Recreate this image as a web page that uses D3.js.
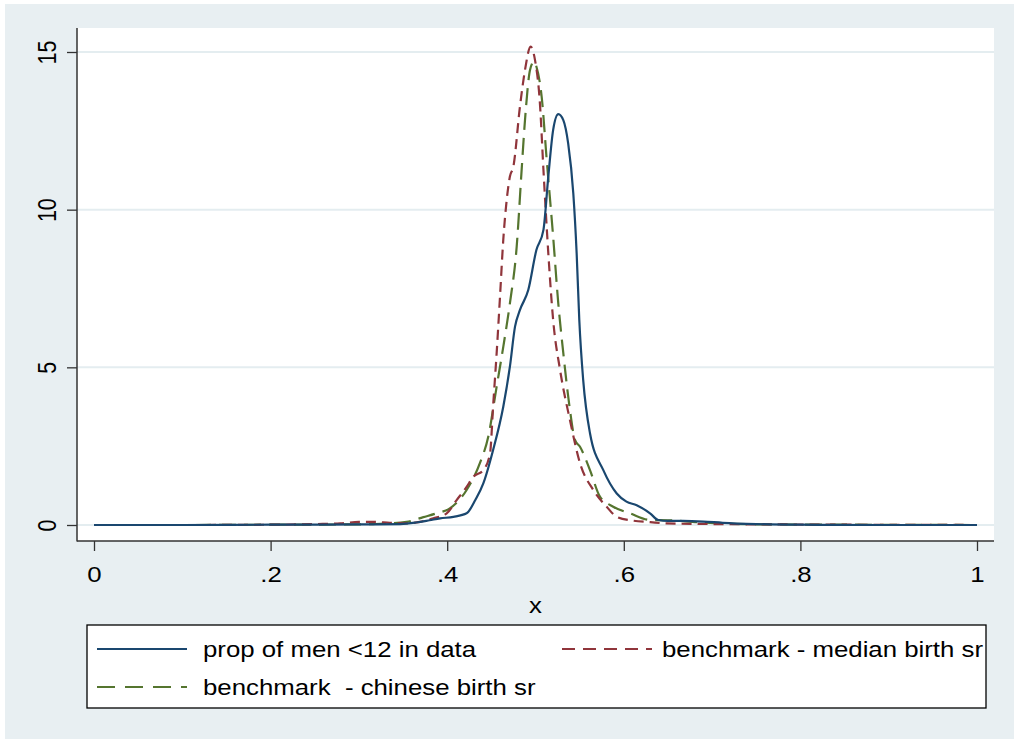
<!DOCTYPE html>
<html>
<head>
<meta charset="utf-8">
<script src="https://cdn.jsdelivr.net/npm/d3@7"></script>
<style>
  html, body { margin: 0; padding: 0; background: #ffffff; }
  svg { display: block; }
  text { font-family: "Liberation Sans", Arial, sans-serif; fill: #000; }
</style>
</head>
<body>
<svg id="chart" width="1014" height="740"></svg>
<script>
// Kernel density estimates, [x, density]
const dataSeries = [
  [0, 0], [0.10, 0], [0.20, 0.01], [0.30, 0.02], [0.347, 0.03], [0.365, 0.08], [0.38, 0.15],
  [0.392, 0.21], [0.407, 0.26], [0.422, 0.37], [0.432, 0.8], [0.4409, 1.32], [0.452, 2.38],
  [0.4635, 3.75], [0.471, 5.02], [0.4768, 6.29], [0.4824, 6.82], [0.4918, 7.45], [0.501, 8.72],
  [0.509, 9.36], [0.5145, 11.05], [0.520, 12.53], [0.5258, 13.03], [0.5315, 12.84],
  [0.537, 12.1], [0.5428, 10.52], [0.5466, 8.62], [0.5496, 6.5], [0.554, 4.6], [0.5617, 2.91],
  [0.5768, 1.74], [0.592, 1.0], [0.603, 0.74], [0.6146, 0.63], [0.6297, 0.37], [0.639, 0.16],
  [0.65, 0.13], [0.667, 0.13], [0.69, 0.11], [0.712, 0.07], [0.75, 0.03], [0.80, 0.01],
  [0.90, 0], [1, 0]
];

const medianSeries = [
  [0, 0], [0.10, 0], [0.20, 0.01], [0.25, 0.03], [0.279, 0.05], [0.30, 0.1], [0.316, 0.1],
  [0.335, 0.07], [0.354, 0.05], [0.369, 0.10], [0.3843, 0.21], [0.3994, 0.37], [0.4107, 0.79],
  [0.422, 1.21], [0.4296, 1.53], [0.4409, 1.74], [0.4485, 2.27], [0.4522, 3.86], [0.456, 5.45],
  [0.4598, 7.24], [0.4635, 9.04], [0.4674, 10.31], [0.471, 11.05], [0.4749, 11.36],
  [0.4824, 13.27], [0.4881, 14.43], [0.4945, 15.17], [0.4994, 14.75], [0.505, 13.37],
  [0.509, 11.26], [0.5145, 8.62], [0.520, 6.5], [0.5278, 4.92], [0.539, 3.33], [0.5504, 1.96],
  [0.5655, 1.11], [0.5806, 0.58], [0.592, 0.26], [0.61, 0.14], [0.63, 0.09], [0.648, 0.05],
  [0.70, 0.03], [0.76, 0.02], [0.85, 0.01], [1, 0]
];

const chineseSeries = [
  [0, 0], [0.10, 0], [0.20, 0.01], [0.30, 0.02], [0.316, 0.03], [0.354, 0.10], [0.373, 0.25],
  [0.388, 0.37], [0.403, 0.53], [0.422, 1.11], [0.437, 1.96], [0.4465, 2.80], [0.456, 4.39],
  [0.4635, 5.65], [0.471, 7.03], [0.4787, 8.83], [0.4843, 11.26], [0.4881, 12.84],
  [0.4938, 14.43], [0.4983, 14.7], [0.501, 14.54], [0.507, 13.58], [0.5127, 11.58],
  [0.520, 9.14], [0.5258, 7.03], [0.5315, 5.45], [0.539, 3.65], [0.5447, 2.70], [0.5504, 2.48],
  [0.5617, 1.74], [0.573, 0.90], [0.588, 0.58], [0.607, 0.37], [0.6297, 0.16], [0.65, 0.15],
  [0.683, 0.09], [0.717, 0.04], [0.76, 0.02], [0.85, 0.01], [1, 0]
];

const xTicks = [0, 0.2, 0.4, 0.6, 0.8, 1];
const xTickLabels = ["0", ".2", ".4", ".6", ".8", "1"];
const yTicks = [0, 5, 10, 15];
const yTickLabels = ["0", "5", "10", "15"];

const seriesNames = ["prop of men <12 in data", "benchmark - median birth sr", "benchmark  - chinese birth sr"];
const seriesColors = ["#1a476f", "#90353b", "#55752f"];
const seriesDashes = [null, "10,6", "17,8"];
const xTitle = "x";

const svg = d3.select("#chart");
const W = 1014, H = 740;
const FS = 21.5;     // base font size
const SX = 1.2;      // horizontal text stretch

// outer graph region
svg.append("rect").attr("x", 0).attr("y", 0).attr("width", W).attr("height", H).attr("fill", "#ffffff");
svg.append("rect").attr("x", 5).attr("y", 4).attr("width", W - 5).attr("height", H - 5).attr("fill", "#e8eff2");

// plot region
const plot = { left: 77, right: 994, top: 28, bottom: 541 };
svg.append("rect")
  .attr("x", plot.left).attr("y", plot.top)
  .attr("width", plot.right - plot.left).attr("height", plot.bottom - plot.top)
  .attr("fill", "#ffffff");

const x = d3.scaleLinear().domain([0, 1]).range([94, 977]);
const y = d3.scaleLinear().domain([0, 15]).range([525, 52]);

// horizontal grid lines
svg.append("g").selectAll("line").data(yTicks).join("line")
  .attr("x1", plot.left).attr("x2", plot.right)
  .attr("y1", d => y(d)).attr("y2", d => y(d))
  .attr("stroke", "#e4edf0").attr("stroke-width", 2);

// y axis
const yAxis = svg.append("g")
  .attr("transform", `translate(${plot.left},0)`)
  .call(d3.axisLeft(y).tickValues(yTicks).tickSize(10).tickFormat(""));
yAxis.select(".domain").remove();
yAxis.selectAll(".tick line").attr("stroke", "#333").attr("stroke-width", 1.3);
yAxis.selectAll(".tick").append("text")
  .attr("transform", `translate(-21,0) scale(${SX},1) rotate(-90)`)
  .attr("text-anchor", "middle")
  .attr("font-size", FS)
  .attr("fill", "#000")
  .text((d, i) => yTickLabels[yTicks.indexOf(d)]);

// x axis
const xAxis = svg.append("g")
  .attr("transform", `translate(0,${plot.bottom})`)
  .call(d3.axisBottom(x).tickValues(xTicks).tickSize(10).tickFormat(""));
xAxis.select(".domain").remove();
xAxis.selectAll(".tick line").attr("stroke", "#333").attr("stroke-width", 1.3);
xAxis.selectAll(".tick").append("text")
  .attr("transform", `translate(0,41) scale(${SX},1)`)
  .attr("text-anchor", "middle")
  .attr("font-size", FS)
  .attr("fill", "#000")
  .text(d => xTickLabels[xTicks.indexOf(d)]);

// axis lines
svg.append("line").attr("x1", plot.left).attr("x2", plot.left)
  .attr("y1", plot.top).attr("y2", plot.bottom + 0.5)
  .attr("stroke", "#333").attr("stroke-width", 1.5);
svg.append("line").attr("x1", plot.left).attr("x2", plot.right)
  .attr("y1", plot.bottom).attr("y2", plot.bottom)
  .attr("stroke", "#333").attr("stroke-width", 1.5);

// x axis title
svg.append("text")
  .attr("transform", `translate(${(x(0) + x(1)) / 2},613) scale(${SX},1)`)
  .attr("text-anchor", "middle")
  .attr("font-size", FS)
  .text(xTitle);

// density curves
const line = d3.line().x(d => x(d[0])).y(d => y(d[1])).curve(d3.curveMonotoneX);
const allSeries = [dataSeries, medianSeries, chineseSeries];
const drawOrder = [2, 1, 0];
drawOrder.forEach(i => {
  svg.append("path")
    .datum(allSeries[i])
    .attr("d", line)
    .attr("fill", "none")
    .attr("stroke", seriesColors[i])
    .attr("stroke-width", 2.2)
    .attr("stroke-linejoin", "round")
    .attr("stroke-dasharray", seriesDashes[i]);
});

// legend
const lg = { left: 87, top: 625, right: 986, bottom: 708 };
svg.append("defs").append("clipPath").attr("id", "legendClip")
  .append("rect").attr("x", lg.left).attr("y", lg.top)
  .attr("width", lg.right - lg.left).attr("height", lg.bottom - lg.top);
svg.append("rect")
  .attr("x", lg.left).attr("y", lg.top)
  .attr("width", lg.right - lg.left).attr("height", lg.bottom - lg.top)
  .attr("fill", "#ffffff").attr("stroke", "#000").attr("stroke-width", 1.3);

const legendItems = [
  { i: 0, sx: 97, tx: 203, row: 0 },
  { i: 1, sx: 562, tx: 662, row: 0 },
  { i: 2, sx: 97, tx: 203, row: 1 }
];
const legendG = svg.append("g").attr("clip-path", "url(#legendClip)");
legendItems.forEach(it => {
  const cy = 649 + it.row * 38;
  legendG.append("line")
    .attr("x1", it.sx).attr("x2", it.sx + 90)
    .attr("y1", cy).attr("y2", cy)
    .attr("stroke", seriesColors[it.i])
    .attr("stroke-width", 2.2)
    .attr("stroke-dasharray", it.i === 1 ? "13,8" : it.i === 2 ? "18,10" : null);
  legendG.append("text")
    .attr("transform", `translate(${it.tx},${cy + 8}) scale(${SX},1)`)
    .attr("font-size", FS)
    .attr("xml:space", "preserve")
    .style("white-space", "pre")
    .text(seriesNames[it.i]);
});
</script>
</body>
</html>
